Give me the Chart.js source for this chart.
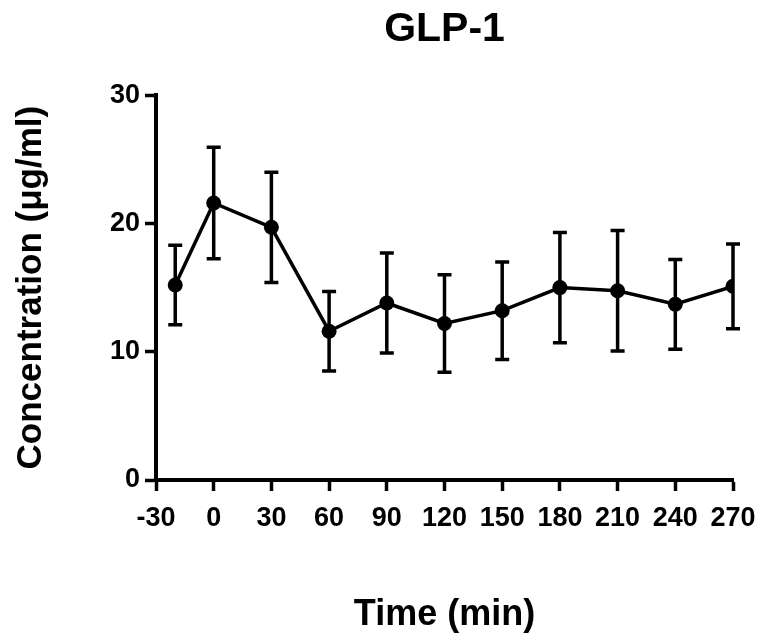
<!DOCTYPE html>
<html>
<head>
<meta charset="utf-8">
<script src="https://cdn.jsdelivr.net/npm/chart.js@4/dist/chart.umd.min.js"></script>
<style>
  body { margin: 0; background: #fff; }
  canvas { display: block; }
</style>
</head>
<body>
<canvas id="glpChart" width="759" height="641"></canvas>
<script>
// sampling times (min), mean GLP-1 and error bar half-widths
const times = [-20, 0, 30, 60, 90, 120, 150, 180, 210, 240, 270];
const means = [15.2, 21.6, 19.7, 11.6, 13.8, 12.2, 13.2, 15.0, 14.75, 13.7, 15.1];
const errs = [3.1, 4.35, 4.3, 3.1, 3.9, 3.8, 3.8, 4.3, 4.7, 3.5, 3.3];
const xTicks = [-30, 0, 30, 60, 90, 120, 150, 180, 210, 240, 270];
const yTicks = [0, 10, 20, 30];

Chart.defaults.font.family = "'Liberation Sans', Arial, sans-serif";
Chart.defaults.color = "#000";

// draws the vertical error bars with caps using the chart's own scales
const errorBars = {
  id: "errorBars",
  beforeDatasetsDraw(chart) {
    const ctx = chart.ctx;
    const yScale = chart.scales.y;
    const meta = chart.getDatasetMeta(0);
    ctx.save();
    ctx.strokeStyle = "#000";
    ctx.lineWidth = 3.5;
    meta.data.forEach((pt, i) => {
      const top = yScale.getPixelForValue(means[i] + errs[i]);
      const bot = yScale.getPixelForValue(means[i] - errs[i]);
      const cap = 7;
      ctx.beginPath();
      ctx.moveTo(pt.x, top);
      ctx.lineTo(pt.x, bot);
      ctx.moveTo(pt.x - cap, top);
      ctx.lineTo(pt.x + cap, top);
      ctx.moveTo(pt.x - cap, bot);
      ctx.lineTo(pt.x + cap, bot);
      ctx.stroke();
    });
    ctx.restore();
  },
};

const ctx = document.getElementById("glpChart").getContext("2d");
new Chart(ctx, {
  type: "line",
  data: {
    datasets: [
      {
        data: times.map((t, i) => ({ x: t, y: means[i] })),
        borderColor: "#000",
        backgroundColor: "#000",
        borderWidth: 3.5,
        pointRadius: 7.5,
        pointBackgroundColor: "#000",
        pointBorderWidth: 0,
        tension: 0,
      },
    ],
  },
  options: {
    responsive: false,
    animation: false,
    devicePixelRatio: 1,
    layout: { padding: { left: 0, right: 26, top: 0, bottom: 0 } },
    plugins: {
      legend: { display: false },
      tooltip: { enabled: false },
      title: {
        display: true,
        fullSize: false,
        text: "GLP-1",
        color: "#000",
        font: { size: 41, weight: "bold" },
        padding: { top: 5, bottom: 41 },
      },
    },
    scales: {
      x: {
        type: "linear",
        min: -30,
        max: 270,
        afterBuildTicks: (scale) => {
          scale.ticks = xTicks.map((v) => ({ value: v }));
        },
        afterFit: (scale) => {
          scale.height = 161;
          scale.paddingLeft = 0;
          scale.paddingRight = 0;
        },
        grid: {
          display: true,
          drawOnChartArea: false,
          drawTicks: true,
          tickLength: 11,
          tickWidth: 3.5,
          color: "#000",
        },
        border: { display: true, width: 4, color: "#000" },
        ticks: {
          color: "#000",
          padding: 11,
          maxRotation: 0,
          autoSkip: false,
          font: { size: 27, weight: "bold" },
        },
        title: {
          display: true,
          text: "Time (min)",
          color: "#000",
          font: { size: 36, weight: "bold" },
          padding: { top: 0, bottom: 4 },
        },
      },
      y: {
        min: 0,
        max: 30,
        afterBuildTicks: (scale) => {
          scale.ticks = yTicks.map((v) => ({ value: v }));
        },
        afterFit: (scale) => {
          scale.width = 156;
        },
        grid: {
          display: true,
          drawOnChartArea: false,
          drawTicks: true,
          tickLength: 11,
          tickWidth: 3.5,
          color: "#000",
        },
        border: { display: true, width: 4, color: "#000" },
        ticks: {
          color: "#000",
          padding: 5,
          font: { size: 27, weight: "bold" },
        },
        title: {
          display: true,
          text: "Concentration (\u03bcg/ml)",
          color: "#000",
          font: { size: 35, weight: "bold" },
          padding: { top: 10, bottom: 0 },
        },
      },
    },
  },
  plugins: [errorBars],
});
</script>
</body>
</html>
